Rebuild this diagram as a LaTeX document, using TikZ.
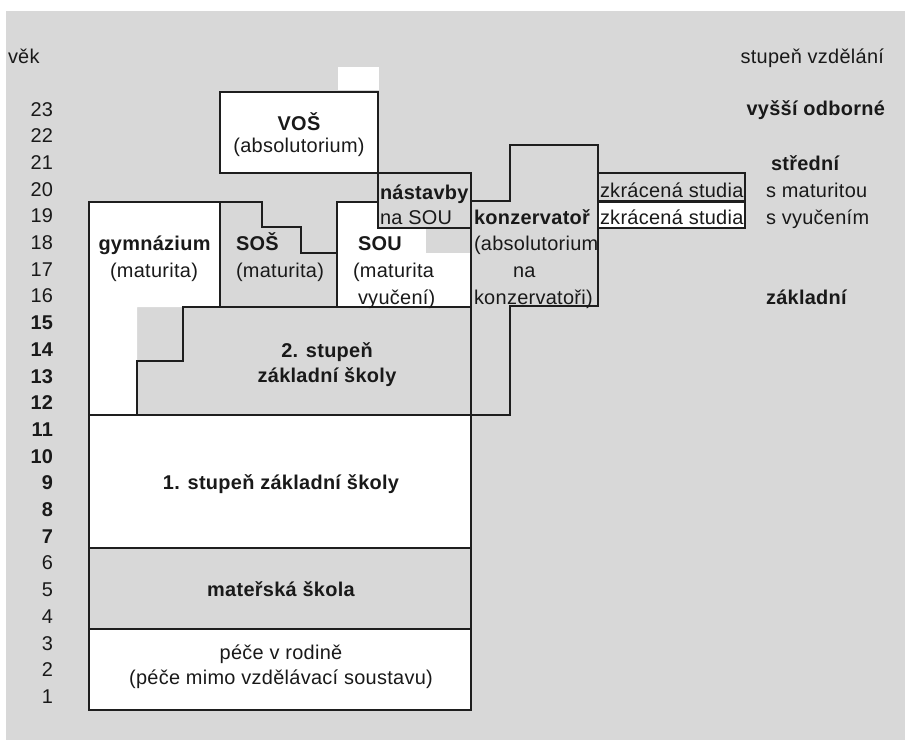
\documentclass[tikz,border=0pt]{standalone}
\usepackage{fontspec}
\setmainfont[LetterSpace=1.5]{Liberation Sans}
\definecolor{bg}{RGB}{216,216,216}
\definecolor{ln}{RGB}{30,30,30}
\definecolor{tx}{RGB}{25,25,25}
\begin{document}
\begin{tikzpicture}[x=1bp,y=-1bp,line width=1.4bp,
  box/.style={draw=ln,line join=miter},
  wbox/.style={box,fill=white},
  gbox/.style={box,fill=bg},
  lbl/.style={inner sep=0pt,outer sep=0pt,text=tx,font=\fontsize{20}{24}\selectfont},
  blbl/.style={lbl,font=\fontsize{20}{24}\selectfont\bfseries}]
\useasboundingbox (0,0) rectangle (905,740);
% background
\fill[white] (0,0) rectangle (905,740);
\fill[bg] (6,11) rectangle (905,740);
\fill[white] (338,67) rectangle (379,90);
% VOS
\draw[wbox] (220,92) rectangle (378,173);
% gymnazium
\fill[white] (89,202) -- (220,202) -- (220,307) -- (137,307) -- (137,415) -- (89,415) -- cycle;
\draw[box] (89,415) -- (89,202) -- (220,202) -- (220,307);
% SOS
\draw[gbox] (220,307) -- (220,202) -- (262,202) -- (262,227) -- (301,227) -- (301,253) -- (337,253) -- (337,307) -- cycle;
% SOU
\draw[wbox] (337,202) rectangle (471,307);
\fill[bg] (426,228) rectangle (470.3,253);
% nastavby
\draw[gbox] (378,173) rectangle (471,228);
% konzervator
\draw[gbox] (471,201) -- (510,201) -- (510,145) -- (598,145) -- (598,306) -- (510,306) -- (510,415) -- (471,415) -- cycle;
% zkracena studia
\draw[gbox] (598,173) rectangle (745,200.5);
\draw[wbox] (598,201.8) rectangle (745,228);
% 2. stupen
\draw[gbox] (183,307) -- (471,307) -- (471,415) -- (137,415) -- (137,361) -- (183,361) -- cycle;
% 1. stupen
\draw[wbox] (89,415) rectangle (471,548);
% materska skola
\draw[gbox] (89,548) rectangle (471,629);
% pece
\draw[wbox] (89,629) rectangle (471,710);
% headings
\node[lbl,anchor=base west] (vek) at (8,64) {věk};
\node[lbl,anchor=base east] (stupen) at (884,64) {stupeň vzdělání};
\node[blbl,anchor=base east] (vyssi) at (885,115) {vyšší odborné};
\node[blbl,anchor=base west] (stredni) at (771,170) {střední};
\node[lbl,anchor=base west] (smat) at (766,197) {s maturitou};
\node[lbl,anchor=base west] (svyuc) at (766,224) {s vyučením};
\node[blbl,anchor=base west] (zakl) at (766,304) {základní};
% ages
\foreach \n in {1,...,23}{
  \pgfmathsetmacro{\yy}{116+(23-\n)*26.7}
  \ifnum\n>6 \ifnum\n<16 \def\ff{\bfseries}\else\def\ff{}\fi\else\def\ff{}\fi
  \node[lbl,anchor=base east,font=\fontsize{20}{24}\selectfont\ff] (age\n) at (53,\yy) {\n};
}
% box texts
\node[blbl,anchor=base] (vos) at (299,130) {VOŠ};
\node[lbl,anchor=base] (vosa) at (299,152) {(absolutorium)};
\node[blbl,anchor=base west] (nast) at (380,199) {nástavby};
\node[lbl,anchor=base west] (nasta) at (380,224) {na SOU};
\node[blbl,anchor=base] (gym) at (154.5,250) {gymnázium};
\node[lbl,anchor=base] (gyma) at (154,277) {(maturita)};
\node[blbl,anchor=base west] (sos) at (236,250) {SOŠ};
\node[lbl,anchor=base west] (sosa) at (236,277) {(maturita)};
\node[blbl,anchor=base west] (sou) at (358,250) {SOU};
\node[lbl,anchor=base west] (soua) at (353,277) {(maturita};
\node[lbl,anchor=base west] (soub) at (358,304) {vyučení)};
\node[blbl,anchor=base west] (konz) at (474,224) {konzervatoř};
\node[lbl,anchor=base west] (konza) at (474,250) {(absolutorium};
\node[lbl,anchor=base west] (konzb) at (513,277) {na};
\node[lbl,anchor=base west] (konzc) at (474,304) {konzervatoři)};
\node[lbl,anchor=base west] (zkr1) at (600,197) {zkrácená studia};
\node[lbl,anchor=base west] (zkr2) at (600,224) {zkrácená studia};
\node[blbl,anchor=base] (zs2a) at (327,357) {2. stupeň};
\node[blbl,anchor=base] (zs2b) at (327,382) {základní školy};
\node[blbl,anchor=base] (zs1) at (281,489) {1. stupeň základní školy};
\node[blbl,anchor=base] (ms) at (281,596) {mateřská škola};
\node[lbl,anchor=base] (pece) at (281,659) {péče v rodině};
\node[lbl,anchor=base] (pecea) at (281,684) {(péče mimo vzdělávací soustavu)};
\end{tikzpicture}
\end{document}
